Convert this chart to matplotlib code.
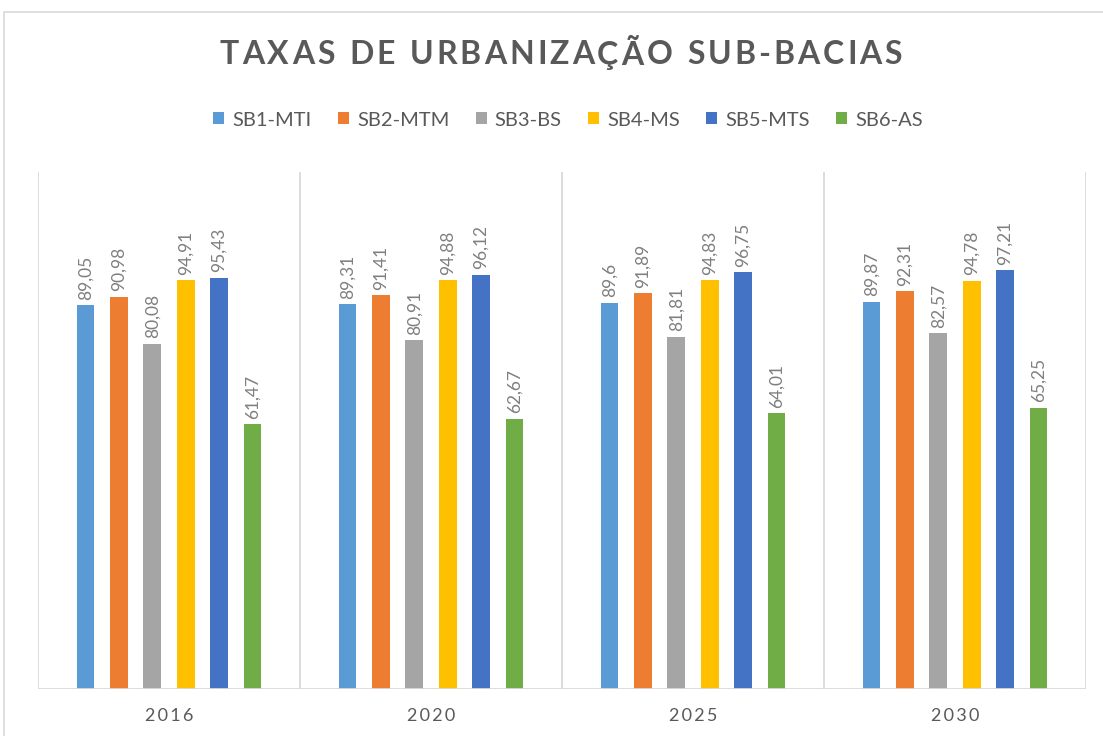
import matplotlib
matplotlib.use("Agg")
import matplotlib.pyplot as plt
import numpy as np
from matplotlib.patches import Rectangle

plt.rcParams['font.family'] = ['Lato', 'DejaVu Sans']

# ---- data ----
years = ['2016', '2020', '2025', '2030']
series = ['SB1-MTI', 'SB2-MTM', 'SB3-BS', 'SB4-MS', 'SB5-MTS', 'SB6-AS']
sb1 = [89.05, 89.31, 89.60, 89.87]
sb2 = [90.98, 91.41, 91.89, 92.31]
sb3 = [80.08, 80.91, 81.81, 82.57]
sb4 = [94.91, 94.88, 94.83, 94.78]
sb5 = [95.43, 96.12, 96.75, 97.21]
sb6 = [61.47, 62.67, 64.01, 65.25]
values = [sb1, sb2, sb3, sb4, sb5, sb6]
labels = [['89,05', '89,31', '89,6', '89,87'],
          ['90,98', '91,41', '91,89', '92,31'],
          ['80,08', '80,91', '81,81', '82,57'],
          ['94,91', '94,88', '94,83', '94,78'],
          ['95,43', '96,12', '96,75', '97,21'],
          ['61,47', '62,67', '64,01', '65,25']]
colors = ['#5B9BD5', '#ED7D31', '#A5A5A5', '#FFC000', '#4472C4', '#70AD47']
title = 'TAXAS DE URBANIZAÇÃO SUB-BACIAS'

W, H = 1103, 736
fig = plt.figure(figsize=(W / 100, H / 100), dpi=100)

# chart border (cut off at right/bottom like the screenshot)
fig.patches.append(Rectangle((4 / W, -0.05), 1.2, (H - 12) / H + 0.05,
                             transform=fig.transFigure, fill=False,
                             edgecolor='#D9D9D9', lw=1.2))

ax = fig.add_axes([38 / W, (H - 689) / H, (1086 - 38) / W, (689 - 172) / H])

x = np.arange(len(years))
step = 0.1275
width = 0.068
for i, (vals, c) in enumerate(zip(values, colors)):
    pos = x + (i - 2.5) * step
    ax.bar(pos, vals, width, color=c, label=series[i], zorder=3)
    for p, v, t in zip(pos, vals, labels[i]):
        ax.annotate(t, (p, v), xytext=(0, 4), textcoords='offset points',
                    rotation=90, ha='center', va='bottom',
                    fontsize=12.5, color='#7F7F7F')

ax.set_xlim(-0.5, len(years) - 0.5)
ax.set_ylim(0, 120)
for b in np.arange(-0.5, len(years), 1.0):
    ax.axvline(b, color='#D9D9D9', lw=1.3, zorder=1)
ax.axhline(0, color='#D9D9D9', lw=2, zorder=4)
for s in ax.spines.values():
    s.set_visible(False)
ax.set_yticks([])
ax.set_xticks(x)
ax.set_xticklabels(['\u2009'.join(y) for y in years], fontsize=13, color='#595959')
ax.tick_params(axis='x', length=0, pad=14)

# letter-spaced title: draw each character, measuring widths
renderer = fig.canvas.get_renderer()
tracking = 3.0  # extra px between letters
props = dict(fontsize=23, fontweight='bold', color='#595959')
widths = []
for ch in title:
    t = fig.text(0, 0, ch if ch != ' ' else 'I', **props)
    w = t.get_window_extent(renderer).width
    if ch == ' ':
        w *= 0.9
    widths.append(w)
    t.remove()
total = sum(widths) + tracking * (len(title) - 1)
xc = 561 - total / 2
for ch, w in zip(title, widths):
    if ch != ' ':
        fig.text(xc / W, 1 - 55 / H, ch, ha='left', va='center', **props)
    xc += w + tracking

fig.legend(loc='center', bbox_to_anchor=(568 / W, 1 - 120 / H), ncol=6, frameon=False,
           fontsize=14.5, handlelength=0.55, handleheight=0.55, handletextpad=0.4,
           columnspacing=1.3, labelcolor='#595959')

fig.savefig('out.png', dpi=100)
